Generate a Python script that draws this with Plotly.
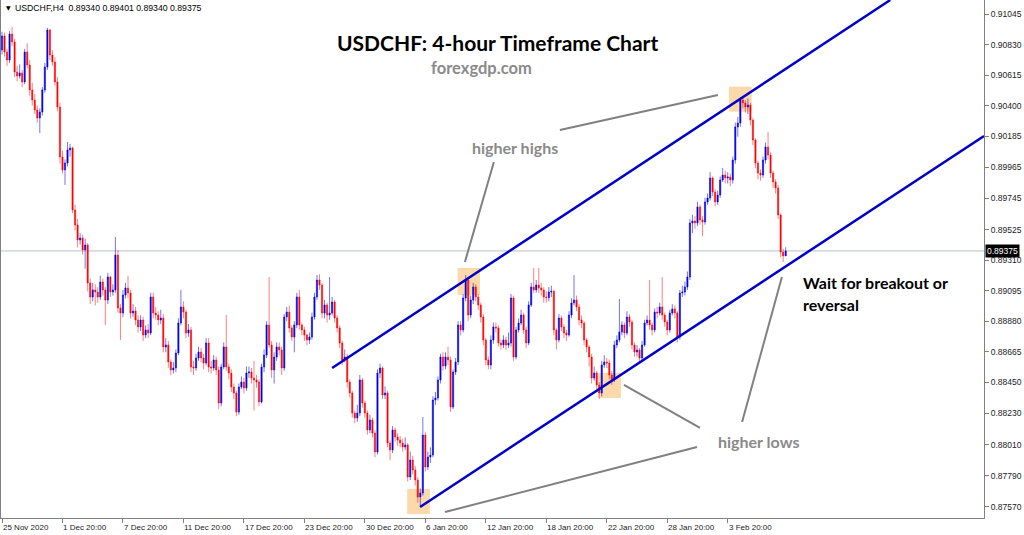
import plotly.graph_objects as go

# ---------------- data (prices in points, 1 point = 0.00001) ----------------
open_pts = [
    90792, 90890, 90777, 90721, 90904, 90848, 90636, 90608, 90630, 90566,
    90777, 90686, 90510, 90439, 90369, 90312, 90354, 90510, 90672, 90933,
    90756, 90707, 90566, 90390, 90037, 89946, 89995, 90087, 90101, 89664,
    89558, 89452, 89466, 89382, 89417, 89149, 89050, 89100, 89085, 89050,
    89156, 89100, 89029, 89191, 89085, 89100, 89346, 88973, 88937, 89064,
    89114, 89078, 88937, 88951, 88888, 88839, 88888, 88782, 88818, 88796,
    89050, 88937, 88923, 88888, 88902, 88698, 88712, 88592, 88536, 88550,
    88655, 88867, 88980, 88944, 88796, 88818, 88557, 88550, 88620, 88662,
    88620, 88585, 88726, 88557, 88550, 88606, 88536, 88303, 88557, 88698,
    88557, 88514, 88416, 88373, 88239, 88416, 88451, 88409, 88514, 88521,
    88479, 88465, 88451, 88310, 88557, 88641, 88853, 88712, 88536, 88627,
    88698, 88677, 88550, 88909, 88944, 88832, 88768, 88853, 89050, 88853,
    88818, 88782, 88747, 88768, 88909, 89050, 89170, 89135, 88937, 88994,
    88923, 88937, 89015, 88902, 88832, 88726, 88606, 88627, 88451, 88373,
    88232, 88197, 88232, 88465, 88303, 88232, 88113, 88183, 88091, 87957,
    88514, 88550, 88359, 88373, 88021, 87972, 88113, 88063, 88042, 88021,
    87993, 88007, 87781, 87901, 87831, 87760, 87640, 87668, 88077, 87852,
    87922, 87936, 88324, 88338, 88465, 88627, 88564, 88627, 88606, 88275,
    88521, 88592, 88853, 88818, 89043, 89170, 88923, 89029, 89121, 89050,
    88994, 88909, 88747, 88606, 88571, 88747, 88839, 88832, 88726, 88712,
    88747, 88712, 88726, 89043, 88627, 88818, 88867, 88923, 88818, 88726,
    88994, 89121, 89100, 89135, 89114, 89100, 89050, 89045, 89085, 89090,
    88818, 88747, 88902, 88839, 88796, 88782, 88923, 89008, 89029, 88980,
    88888, 88867, 88747, 88698, 88627, 88479, 88514, 88430, 88373, 88571,
    88592, 88585, 88500, 88465, 88712, 88747, 88803, 88853, 88796, 88909,
    88874, 88712, 88662, 88677, 88620, 88712, 88867, 88888, 88853, 88818,
    88944, 88937, 88980, 88923, 88874, 88818, 88937, 88966, 88937, 88768,
    89078, 89085, 89121, 89191, 89572, 89586, 89572, 89685, 89593, 89579,
    89720, 89748, 89889, 89790, 89720, 89769, 89875, 89910, 89889, 89896,
    89875, 90016, 90249, 90277, 90439, 90418, 90390, 90404, 90298, 90157,
    89995, 89924, 89910, 90016, 90108, 90051, 89924, 89861, 89819, 89628,
    89367, 89340,
]
high_pts = [
    90920, 90915, 90800, 90925, 90954, 90870, 90680, 90690, 90650, 90800,
    90840, 90720, 90560, 90480, 90400, 90380, 90530, 90700, 90947, 90940,
    90790, 90740, 90600, 90420, 90080, 90020, 90143, 90130, 90110, 89700,
    89600, 89500, 89490, 89460, 89430, 89180, 89150, 89140, 89120, 89200,
    89180, 89120, 89220, 89200, 89140, 89473, 89380, 89000, 89100, 89150,
    89200, 89100, 89000, 88980, 88920, 88920, 88910, 88850, 88860, 89080,
    89080, 88980, 88950, 88960, 88930, 88760, 88740, 88610, 88590, 88680,
    88900, 89100, 89020, 88960, 88860, 88840, 88600, 88650, 88700, 88690,
    88650, 88760, 88760, 88600, 88640, 88630, 88560, 88580, 88730, 88923,
    88580, 88540, 88440, 88390, 88440, 88490, 88480, 88560, 88560, 88550,
    88600, 88500, 88470, 88580, 88680, 88880, 89191, 88740, 88660, 88730,
    88730, 88700, 88930, 88980, 88990, 88850, 88880, 89080, 89100, 88870,
    88840, 88790, 88800, 88940, 89080, 89205, 89210, 89150, 89030, 89010,
    89191, 89050, 89030, 88920, 88850, 88740, 88680, 88650, 88470, 88390,
    88250, 88290, 88500, 88480, 88320, 88250, 88220, 88200, 88110, 88540,
    88580, 88560, 88420, 88390, 88040, 88140, 88130, 88090, 88070, 88050,
    88060, 88020, 87960, 87930, 87860, 87780, 87700, 88204, 88100, 87960,
    87990, 88350, 88380, 88490, 88650, 88660, 88660, 88700, 88630, 88540,
    88620, 88880, 88880, 89070, 89205, 89180, 89060, 89150, 89140, 89070,
    89010, 88930, 88760, 88630, 88780, 88870, 88870, 88850, 88750, 88780,
    88770, 88800, 89070, 89060, 88840, 88900, 88960, 88940, 88840, 89020,
    89150, 89255, 89170, 89255, 89150, 89120, 89090, 89120, 89130, 89100,
    88830, 88930, 88920, 88860, 88820, 88950, 89040, 89205, 89060, 89000,
    88920, 88880, 88760, 88710, 88650, 88560, 88530, 88450, 88600, 88640,
    88620, 88610, 88530, 88740, 88780, 89036, 88880, 88870, 88950, 88930,
    88890, 88730, 88710, 88690, 88740, 88890, 88920, 89170, 88870, 88970,
    88980, 89010, 89191, 88940, 88890, 88960, 89000, 88990, 88950, 89100,
    89130, 89160, 89230, 89600, 89630, 89620, 89720, 89700, 89620, 89750,
    89780, 89930, 89900, 89810, 89800, 89900, 89960, 89940, 89930, 89920,
    90040, 90280, 90320, 90460, 90467, 90440, 90450, 90420, 90310, 90170,
    90010, 89950, 90040, 90140, 90213, 90070, 89940, 89880, 89840, 89640,
    89390, 89401,
]
low_pts = [
    90760, 90745, 90680, 90700, 90820, 90600, 90570, 90590, 90530, 90550,
    90660, 90470, 90400, 90340, 90280, 90206, 90330, 90490, 90650, 90720,
    90680, 90540, 90360, 89990, 89920, 89840, 89970, 90040, 89640, 89520,
    89400, 89420, 89350, 89250, 89090, 89000, 89020, 88990, 89010, 89030,
    89060, 88853, 89000, 89050, 89060, 89080, 88940, 88747, 88910, 89040,
    89040, 88900, 88910, 88850, 88800, 88810, 88740, 88760, 88760, 88780,
    88900, 88890, 88850, 88860, 88660, 88660, 88550, 88500, 88510, 88520,
    88640, 88850, 88900, 88760, 88770, 88520, 88500, 88530, 88600, 88590,
    88540, 88570, 88520, 88510, 88530, 88500, 88260, 88280, 88540, 88530,
    88470, 88380, 88330, 88210, 88220, 88400, 88370, 88390, 88480, 88440,
    88250, 88410, 88280, 88300, 88520, 88620, 88690, 88480, 88440, 88600,
    88640, 88500, 88530, 88880, 88800, 88740, 88660, 88830, 88820, 88780,
    88740, 88710, 88720, 88750, 88890, 89030, 89100, 88900, 88900, 88870,
    88890, 88920, 88870, 88800, 88690, 88570, 88590, 88410, 88340, 88200,
    88160, 88170, 88210, 88270, 88200, 88080, 88090, 88060, 87920, 87940,
    88480, 88330, 88330, 87990, 87900, 87950, 88030, 88000, 87990, 87960,
    87970, 87750, 87760, 87800, 87720, 87600, 87570, 87650, 87820, 87830,
    87880, 87920, 88290, 88320, 88440, 88530, 88540, 88570, 88240, 88260,
    88500, 88570, 88780, 88800, 89020, 88880, 88900, 89000, 89020, 88960,
    88870, 88710, 88570, 88540, 88540, 88720, 88800, 88700, 88680, 88690,
    88680, 88690, 88700, 88600, 88610, 88800, 88850, 88790, 88690, 88710,
    88980, 89080, 89080, 89080, 89060, 89010, 89010, 89020, 89050, 88780,
    88680, 88730, 88810, 88760, 88740, 88770, 88900, 88990, 88950, 88850,
    88830, 88710, 88660, 88560, 88440, 88460, 88400, 88330, 88350, 88550,
    88550, 88470, 88430, 88450, 88690, 88730, 88780, 88760, 88780, 88840,
    88680, 88630, 88630, 88590, 88600, 88700, 88850, 88820, 88780, 88800,
    88900, 88920, 88890, 88840, 88780, 88800, 88920, 88900, 88730, 88750,
    89050, 89060, 89100, 89170, 89500, 89530, 89550, 89560, 89480, 89560,
    89700, 89730, 89760, 89690, 89700, 89750, 89860, 89850, 89850, 89830,
    89850, 89990, 90180, 90250, 90380, 90350, 90340, 90260, 90120, 89960,
    89880, 89870, 89890, 89990, 90020, 89890, 89820, 89780, 89600, 89330,
    89297, 89340,
]
close_pts = [
    90890, 90777, 90721, 90904, 90848, 90636, 90608, 90630, 90566, 90777,
    90686, 90510, 90439, 90369, 90312, 90354, 90510, 90672, 90933, 90756,
    90707, 90566, 90390, 90037, 89946, 89995, 90087, 90101, 89664, 89558,
    89452, 89466, 89382, 89417, 89149, 89050, 89100, 89085, 89050, 89156,
    89100, 89029, 89191, 89085, 89100, 89346, 88973, 88937, 89064, 89114,
    89078, 88937, 88951, 88888, 88839, 88888, 88782, 88818, 88796, 89050,
    88937, 88923, 88888, 88902, 88698, 88712, 88592, 88536, 88550, 88655,
    88867, 88980, 88944, 88796, 88818, 88557, 88550, 88620, 88662, 88620,
    88585, 88726, 88557, 88550, 88606, 88536, 88303, 88557, 88698, 88557,
    88514, 88416, 88373, 88239, 88416, 88451, 88409, 88514, 88521, 88479,
    88465, 88451, 88310, 88557, 88641, 88853, 88712, 88536, 88627, 88698,
    88677, 88550, 88909, 88944, 88832, 88768, 88853, 89050, 88853, 88818,
    88782, 88747, 88768, 88909, 89050, 89170, 89135, 88937, 88994, 88923,
    88937, 89015, 88902, 88832, 88726, 88606, 88627, 88451, 88373, 88232,
    88197, 88232, 88465, 88303, 88232, 88113, 88183, 88091, 87957, 88514,
    88550, 88359, 88373, 88021, 87972, 88113, 88063, 88042, 88021, 87993,
    88007, 87781, 87901, 87831, 87760, 87640, 87668, 88077, 87852, 87922,
    87936, 88324, 88338, 88465, 88627, 88564, 88627, 88606, 88275, 88521,
    88592, 88853, 88818, 89043, 89170, 88923, 89029, 89121, 89050, 88994,
    88909, 88747, 88606, 88571, 88747, 88839, 88832, 88726, 88712, 88747,
    88712, 88726, 89043, 88627, 88818, 88867, 88923, 88818, 88726, 88994,
    89121, 89100, 89135, 89114, 89100, 89050, 89045, 89085, 89090, 88818,
    88747, 88902, 88839, 88796, 88782, 88923, 89008, 89029, 88980, 88888,
    88867, 88747, 88698, 88627, 88479, 88514, 88430, 88373, 88571, 88592,
    88585, 88500, 88465, 88712, 88747, 88803, 88853, 88796, 88909, 88874,
    88712, 88662, 88677, 88620, 88712, 88867, 88888, 88853, 88818, 88944,
    88937, 88980, 88923, 88874, 88818, 88937, 88966, 88937, 88768, 89078,
    89085, 89121, 89191, 89572, 89586, 89572, 89685, 89593, 89579, 89720,
    89748, 89889, 89790, 89720, 89769, 89875, 89910, 89889, 89896, 89875,
    90016, 90249, 90277, 90439, 90418, 90390, 90404, 90298, 90157, 89995,
    89924, 89910, 90016, 90108, 90051, 89924, 89861, 89819, 89628, 89367,
    89340, 89375,
]

x_tick_bars = [0, 24, 48, 72, 96, 120, 144, 168, 192, 216, 240, 264, 288]
x_tick_labels = ["25 Nov 2020", "1 Dec 20:00", "7 Dec 20:00", "11 Dec 20:00",
                 "17 Dec 20:00", "23 Dec 20:00", "30 Dec 20:00", "6 Jan 20:00",
                 "12 Jan 20:00", "18 Jan 20:00", "22 Jan 20:00", "28 Jan 20:00",
                 "3 Feb 20:00"]
y_tick_values = [0.91045, 0.90830, 0.90615, 0.90400, 0.90185, 0.89965, 0.89745,
                 0.89525, 0.89310, 0.89095, 0.88880, 0.88665, 0.88450, 0.88230,
                 0.88010, 0.87790, 0.87570]

symbol_label = "USDCHF,H4"
chart_title = "USDCHF: 4-hour Timeframe Chart"
site_label = "forexgdp.com"

# ---------------- derived series ----------------
bars = list(range(len(close_pts)))
opens = [v / 1e5 for v in open_pts]
highs = [v / 1e5 for v in high_pts]
lows = [v / 1e5 for v in low_pts]
closes = [v / 1e5 for v in close_pts]

X_RANGE = [-0.4, 389.7]
Y_RANGE = [0.87492, 0.91144]

fig = go.Figure()
fig.add_trace(go.Candlestick(
    x=bars, open=opens, high=highs, low=lows, close=closes,
    increasing=dict(line=dict(color="rgba(0,0,235,0.55)", width=1), fillcolor="#0000e0"),
    decreasing=dict(line=dict(color="rgba(255,0,0,0.5)", width=1), fillcolor="#ff0000"),
    whiskerwidth=0, hoverinfo="skip", showlegend=False,
))

shapes = []
# current price line
shapes.append(dict(type="line", xref="paper", x0=0, x1=1, yref="y",
                   y0=closes[-1], y1=closes[-1], layer="below",
                   line=dict(color="#b7bfc8", width=1)))
# highlight boxes (bar-index / price coordinates)
boxes = [(180.8, 189.7, 0.89064, 0.89255), (160.8, 169.8, 0.87520, 0.87697),
         (288.5, 297.5, 0.90357, 0.90533), (236.6, 245.6, 0.88338, 0.88514)]
for bx0, bx1, by0, by1 in boxes:
    shapes.append(dict(type="rect", xref="x", yref="y", x0=bx0, x1=bx1, y0=by0, y1=by1,
                       fillcolor="#fcd9aa", line=dict(width=0), layer="below"))
# channel lines
channel = [((131.0, 0.88550), (352.5, 0.91144)), ((165.9, 0.87570), (389.7, 0.90185))]
for (cx0, cy0), (cx1, cy1) in channel:
    shapes.append(dict(type="line", xref="x", yref="y", x0=cx0, y0=cy0, x1=cx1, y1=cy1,
                       line=dict(color="#0000c8", width=2.5), layer="above"))
# grey pointer lines
pointers = [((195.2, 0.90002), (183.7, 0.89297)), ((221.4, 0.90228), (284.1, 0.90474)),
            ((175.8, 0.87534), (275.8, 0.87993)), ((246.8, 0.88430), (277.0, 0.88127)),
            ((293.7, 0.88169), (309.5, 0.89191))]
for (px0, py0), (px1, py1) in pointers:
    shapes.append(dict(type="line", xref="x", yref="y", x0=px0, y0=py0, x1=px1, y1=py1,
                       line=dict(color="#808080", width=2), layer="above"))

annotations = []
for tb, tl in zip(x_tick_bars, x_tick_labels):
    annotations.append(dict(x=tb, xref="x", y=0, yref="paper", text=tl, showarrow=False,
                            xanchor="left", yanchor="top", yshift=-3, xshift=-1,
                            font=dict(family="Liberation Sans", size=8, color="#222")))
# price label
annotations.append(dict(x=1, xref="paper", y=closes[-1], yref="y", text=f"{closes[-1]:.5f}",
                        showarrow=False, xanchor="left", yanchor="middle", xshift=1,
                        bgcolor="black", borderpad=1,
                        font=dict(family="Liberation Sans", size=8.5, color="white")))
# header
header = f"{symbol_label}  {opens[-1]:.5f} {highs[-1]:.5f} {lows[-1]:.5f} {closes[-1]:.5f}"
annotations.append(dict(x=0.003, xref="paper", y=0.985, yref="paper", text="▼",
                        showarrow=False, xanchor="left", yanchor="middle",
                        font=dict(family="DejaVu Sans", size=6, color="black")))
annotations.append(dict(x=0.012, xref="paper", y=0.985, yref="paper", text=header,
                        showarrow=False, xanchor="left", yanchor="middle",
                        font=dict(family="Liberation Sans", size=8.7, color="black")))
# texts
texts = [
    (chart_title, 0.5046, 0.918, "center", 21, "black"),
    (site_label, 0.489, 0.869, "center", 16.5, "#8a8a8a"),
    ("higher highs", 0.523, 0.716, "center", 16, "#8a8a8a"),
    ("higher lows", 0.771, 0.147, "center", 16, "#8a8a8a"),
    ("Wait for breakout or", 0.8138, 0.4537, "left", 16, "black"),
    ("reversal", 0.8138, 0.4112, "left", 16, "black"),
]
for t, tx, ty, anc, sz, col in texts:
    annotations.append(dict(x=tx, xref="paper", y=ty, yref="paper", text=f"<b>{t}</b>",
                            showarrow=False, xanchor=anc, yanchor="middle",
                            font=dict(family="Lato", size=sz, color=col)))

fig.update_layout(
    width=1024, height=535,
    margin=dict(l=1, r=40, t=0, b=17),
    paper_bgcolor="white", plot_bgcolor="white",
    shapes=shapes, annotations=annotations,
    showlegend=False,
    xaxis=dict(range=X_RANGE, showgrid=False, zeroline=False, showline=True,
               linecolor="#808080", linewidth=1, ticks="outside", ticklen=4,
               tickcolor="#808080", tickvals=x_tick_bars, showticklabels=False,
               rangeslider=dict(visible=False), fixedrange=True),
    yaxis=dict(range=Y_RANGE, side="right", showgrid=False, zeroline=False,
               showline=True, mirror=True, linecolor="#808080", linewidth=1,
               ticks="outside", ticklen=4, tickcolor="#808080",
               tickvals=y_tick_values, tickformat=".5f",
               tickfont=dict(family="Liberation Sans", size=8.5, color="#222"),
               fixedrange=True),
)

fig.write_html("out.html", config={"displayModeBar": False},
               post_script="document.body.style.margin='0';")
